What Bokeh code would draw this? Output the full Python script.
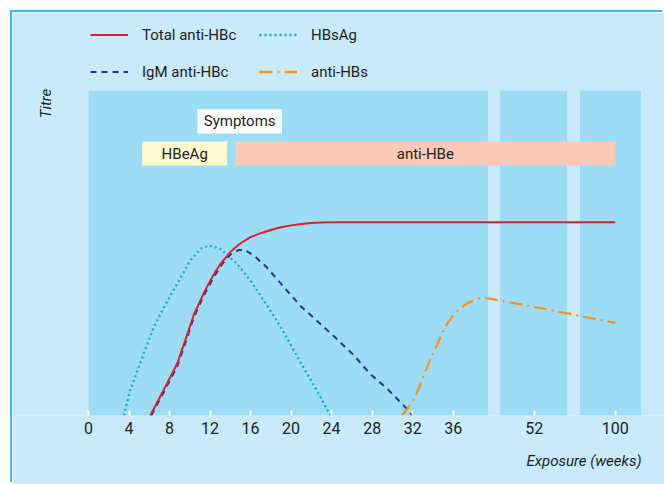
import numpy as np
from bokeh.plotting import figure
from bokeh.models import Range1d, Legend, LegendItem, FixedTicker, Title, Label
from bokeh.core.properties import value
from bokeh.embed import file_html
from bokeh.resources import INLINE

FONT = "Roboto"
DARK = "#9cdcf7"
LIGHT = "#c8eafa"
INK = "#231f20"

# Broken x axis: weeks -> axis position
axis_weeks = [0, 36, 52, 100]
axis_pos = [0, 36, 44, 52]


def pos(w):
    return np.interp(np.asarray(w, dtype=float), axis_weeks, axis_pos)


tick_weeks = [0, 4, 8, 12, 16, 20, 24, 28, 32, 36, 52, 100]
tick_labels = ["0", "4", "8", "12", "16", "20", "24", "28", "32", "36", "52", "100"]

# Series (weeks, titre in arbitrary units 0-100)
total_weeks = [6.1, 7.4, 8.75, 9.7, 10.4, 11.4, 12.4, 13.0, 14.0, 15.0, 16.0, 17.0, 18.0, 19.0, 20.0,
               21.0, 22.0, 23.0, 24.5, 100]
total_titre = [0, 7.7, 15.9, 24.5, 31.0, 37.8, 43.6, 46.5, 50.3, 53.0, 54.9, 56.1, 57.1, 57.9, 58.5,
               58.9, 59.2, 59.4, 59.5, 59.5]

igm_weeks = [6.2, 7.4, 8.75, 9.7, 10.4, 11.4, 12.4, 13.2, 14.0, 14.8, 15.4, 16.3, 17.6, 19.3, 20.9,
             22.6, 24.5, 26.2, 27.8, 29.5, 31.1, 32.0]
igm_titre = [0, 7.0, 15.0, 23.6, 30.2, 37.0, 42.8, 46.6, 49.5, 50.9, 51.0, 49.3, 45.6, 39.5, 33.8,
             29.0, 23.6, 18.5, 12.8, 8.2, 3.1, 0]

hbsag_weeks = [3.5, 4.1, 5.45, 6.45, 7.45, 8.75, 10.05, 11.05, 11.9, 13.0, 14.65, 16.0, 17.3, 18.6,
               19.9, 21.2, 22.55, 23.7, 23.9]
hbsag_titre = [0, 7.7, 19.0, 27.2, 33.3, 40.5, 47.7, 51.3, 52.3, 51.3, 46.7, 41.5, 35.4, 29.2,
               22.1, 14.9, 7.7, 1.0, 0]

antihbs_weeks = [31.0, 32.25, 32.9, 33.7, 34.9, 35.4, 36.4, 38.4, 40.6, 42.3, 52, 100]
antihbs_titre = [0, 5.6, 10.8, 16.9, 25.1, 28.2, 31.6, 34.2, 35.9, 36.2, 33.4, 28.5]

# Marker boxes
box_names = ["Symptoms", "HBeAg", "anti-HBe"]
box_start = [10.75, 5.3, 14.5]
box_end = [19.1, 13.7, 100]
box_bottom = [86.8, 76.9, 76.9]
box_top = [94.2, 84.3, 84.3]
box_colors = ["#ffffff", "#fefacd", "#fbc9b5"]

# Plot panels of the broken axis (axis position units) and titre extent
panel_left = [0, 40.63, 48.52]
panel_right = [39.45, 47.24, 54.54]
titre_max = 100

p = figure(width=652, height=472, x_range=Range1d(-7.5, 56.86), y_range=Range1d(0, 124),
           output_backend="svg", toolbar_location=None,
           min_border_left=0, min_border_right=0, min_border_top=0, min_border_bottom=69,
           background_fill_color=LIGHT, border_fill_color=LIGHT, outline_line_color=None,
           margin=(12, 0, 0, 12), styles={"box-shadow": "-2px -2px 0 0 #3dbbf0"})

p.xgrid.visible = False
p.ygrid.visible = False
p.yaxis.visible = False

p.quad(left=panel_left, right=panel_right, bottom=0, top=titre_max,
       fill_color=DARK, line_color=None)

tick_pos = [int(round(v)) for v in pos(tick_weeks)]
ax = p.xaxis[0]
ax.ticker = FixedTicker(ticks=tick_pos)
ax.major_label_overrides = {tp: lab for tp, lab in zip(tick_pos, tick_labels)}
ax.axis_line_color = None
ax.major_tick_in = 5
ax.major_tick_out = 0
ax.major_tick_line_color = "white"
ax.major_tick_line_width = 2
ax.minor_tick_line_color = None
ax.major_label_standoff = 6
ax.major_label_text_font = FONT
ax.major_label_text_font_size = "16px"
ax.major_label_text_color = INK

# Boxes
p.quad(left=pos(box_start), right=pos(box_end), bottom=box_bottom, top=box_top,
       fill_color=box_colors, line_color=None)
p.text(x=(pos(box_start) + pos(box_end)) / 2, y=(np.array(box_bottom) + np.array(box_top)) / 2,
       text=box_names, text_font=value(FONT), text_font_size="15px", text_color=INK,
       text_align="center", text_baseline="middle")

# Lines
r_hbsag = p.line(pos(hbsag_weeks), hbsag_titre, line_color="#13aebd", line_width=2.3, line_dash="2 3")
r_igm = p.line(pos(igm_weeks), igm_titre, line_color="#2e3192", line_width=2, line_dash="6 5")
r_total = p.line(pos(total_weeks), total_titre, line_color="#e31e26", line_width=2)
r_hbs = p.line(pos(antihbs_weeks), antihbs_titre, line_color="#f7941d", line_width=2.3,
               line_dash="13 5 2 5")

legend = Legend(items=[LegendItem(label="Total anti-HBc", renderers=[r_total]),
                       LegendItem(label="HBsAg", renderers=[r_hbsag]),
                       LegendItem(label="IgM anti-HBc", renderers=[r_igm]),
                       LegendItem(label="anti-HBs", renderers=[r_hbs])],
                location=(78, 333), orientation="horizontal", ncols=2,
                background_fill_alpha=0, border_line_alpha=0, padding=0, margin=0,
                glyph_width=38, glyph_height=21, label_height=21, label_width=101,
                label_standoff=14, spacing=16,
                label_text_font=FONT, label_text_font_size="15px", label_text_color=INK)
p.add_layout(legend)

p.add_layout(Label(x=-4.15, y=96, text="Titre", angle=np.pi / 2, text_align="center",
                   text_baseline="middle", text_font=FONT, text_font_style="italic",
                   text_font_size="15px", text_color=INK))
p.add_layout(Title(text="Exposure (weeks)", align="right", standoff=26, offset=23,
                   text_font=FONT, text_font_style="italic", text_font_size="15px",
                   text_color=INK), "below")

open("out.html", "w").write(file_html(p, INLINE))
